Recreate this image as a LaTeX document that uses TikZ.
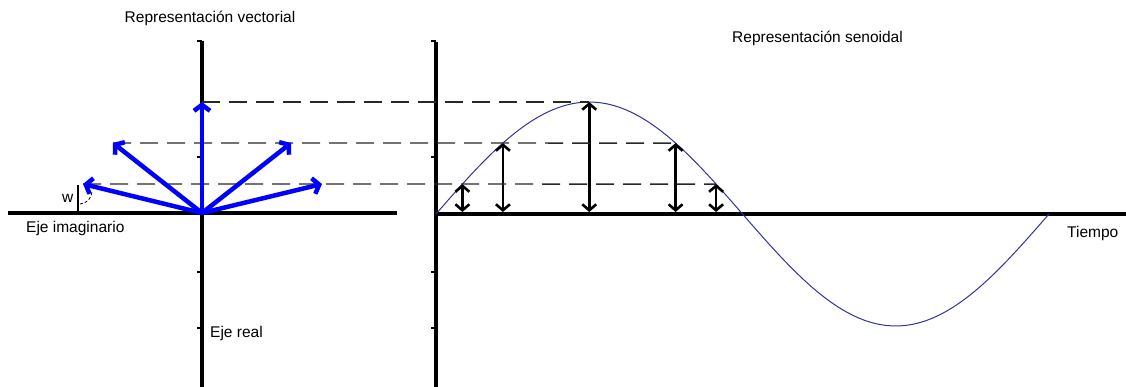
\documentclass[tikz,border=0pt]{standalone}
\usepackage{fontspec}
\setmainfont{Liberation Sans}
\usetikzlibrary{arrows.meta,calc}
\definecolor{vecblue}{RGB}{0,0,255}
\definecolor{curveblue}{RGB}{50,50,160}
\definecolor{dashgray}{RGB}{40,40,40}
\tikzset{
  axisline/.style ={line width=3.8pt, draw=black},
  tickmark/.style ={line width=1.2pt, draw=black},
  phasor/.style   ={-{Straight Barb[length=6pt,width=16pt]}, line width=4.5pt, draw=vecblue},
  level/.style    ={dash pattern=on 18pt off 9pt, line width=1.4pt, draw=dashgray},
  amp/.style      ={{Straight Barb[length=6pt,width=14pt]}-{Straight Barb[length=6pt,width=14pt]},
                    line width=2.6pt, draw=black},
  sine/.style     ={line width=1pt, draw=curveblue},
  lbl/.style      ={font=\fontsize{15.5}{18}\selectfont, inner sep=0pt}
}

\begin{document}
\begin{tikzpicture}[x=1pt,y=-1pt]
\useasboundingbox (0,0) rectangle (1126,387);
\def\kx{1.70278}% px per degree
% ejes
\coordinate (L0) at (8,213);   \coordinate (L1) at (397,213);
\coordinate (Lt) at (202,41);  \coordinate (Lb) at (202,390);
\coordinate (R0) at (436,214); \coordinate (R1) at (1126,214);
\coordinate (Rt) at (436,42);  \coordinate (Rb) at (436,390);
\draw[axisline] (L0) -- (L1);
\draw[axisline, line width=3.4pt] (Lt) -- (Lb);
\draw[axisline] (R0) -- (R1);
\draw[axisline, line width=3.4pt] (Rt) -- (Rb);
\foreach \yy in {41,157,272,328}{
  \draw[tickmark] (197,\yy) -- (202,\yy);
  \draw[tickmark] (431,\yy) -- (436,\yy);
}
% curva y amplitudes
\draw[sine] plot[domain=0:360, samples=91] ({436+\x*\kx},{214-112*sin(\x)});
\foreach \ang/\nm in {15.5/a, 39.3/b, 90/c, 140.7/d, 164.5/e}{
  \coordinate (\nm top) at ({436+\ang*\kx},{214-112*sin(\ang)});
  \coordinate (\nm bot) at ({436+\ang*\kx},212);
  \draw[amp] (\nm bot) -- (\nm top);
}
% fasores
\coordinate (O) at (202,213);
\coordinate (Pup) at (202,102);
\coordinate (Pl1) at (113,143);
\coordinate (Pr1) at (291,143);
\coordinate (Pl2) at (83,184);
\coordinate (Pr2) at (322,184);
\draw[level] (Pup) -- (ctop);
\draw[level] (Pl1) -- (dtop);
\draw[level] (Pl2) -- (etop);
\foreach \p in {Pup,Pl1,Pr1,Pl2,Pr2}
  \draw[phasor] (O) -- (\p);
% angulo w
\coordinate (W0) at (78,213); \coordinate (W1) at (78,185);
\draw[line width=2.4pt] (W0) -- (W1);
\draw[densely dashed, line width=0.8pt] (80,204) to[bend right=40] (92,192);
\node[lbl, anchor=base west] (w) at (62,203) {w};
% textos
\node[lbl, anchor=base] (tvec) at (210,23) {Representación vectorial};
\node[lbl, anchor=base west] (tsen) at (732,43) {Representación senoidal};
\node[lbl, anchor=base west] (eimag) at (26,233) {Eje imaginario};
\node[lbl, anchor=base west] (ereal) at (210,337) {Eje real};
\node[lbl, anchor=base west] (tiempo) at (1067,238) {Tiempo};
\end{tikzpicture}
\end{document}
